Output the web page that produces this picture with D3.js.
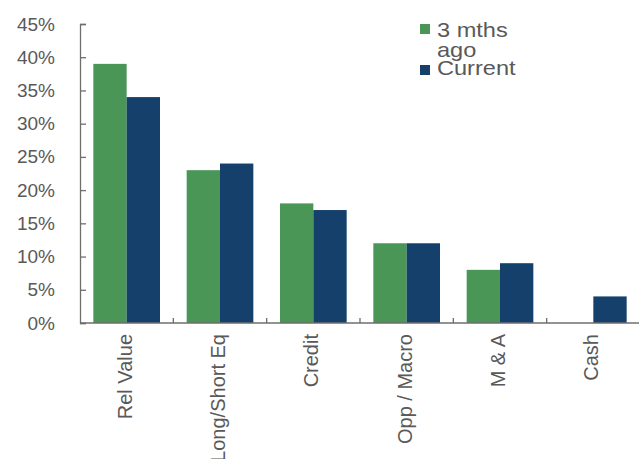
<!DOCTYPE html>
<html>
<head>
<meta charset="utf-8">
<script src="https://cdn.jsdelivr.net/npm/d3@7"></script>
<style>
  body { margin: 0; background: #fff; }
  text { font-family: "Liberation Sans", Arial, sans-serif; fill: #595959; }
</style>
</head>
<body>
<div id="chart"></div>
<script>
const CATEGORIES = ["Rel Value", "Long/Short Eq", "Credit", "Opp / Macro", "M & A", "Cash"]
const SERIES = ["3 mths ago", "Current"]
const AGO = [39, 23, 18, 12, 8, null]
const CURRENT = [34, 24, 17, 12, 9, 4]
const Y_TICKS = [0, 5, 10, 15, 20, 25, 30, 35, 40, 45]
const COLORS = ["#4a9657", "#15406b"]

const WIDTH = 639
const HEIGHT = 459
const LEFT = 80
const TOP = 24
const BOTTOM = 323

const svg = d3.select("#chart").append("svg")
  .attr("width", WIDTH)
  .attr("height", HEIGHT)

const y = d3.scaleLinear().domain([0, 45]).range([BOTTOM, TOP])

// categories run a bit past the right edge, like the original
const x0 = d3.scaleBand().domain(CATEGORIES).range([LEFT, 640]).padding(0)
const x1 = d3.scaleBand().domain(SERIES).range([0, x0.bandwidth()])
  .paddingInner(0).paddingOuter(0.4)

const rows = CATEGORIES.map((c, i) => ({ cat: c, vals: [AGO[i], CURRENT[i]] }))

svg.selectAll("g.group")
  .data(rows)
  .enter().append("g")
  .attr("class", "group")
  .attr("transform", d => `translate(${x0(d.cat)},0)`)
  .selectAll("rect")
  .data(d => d.vals.map((v, j) => ({ s: SERIES[j], v: v, j: j })).filter(d => d.v != null))
  .enter().append("rect")
  .attr("x", d => x1(d.s))
  .attr("y", d => y(d.v))
  .attr("width", x1.bandwidth())
  .attr("height", d => BOTTOM - y(d.v))
  .attr("fill", d => COLORS[d.j])

// y axis with inward ticks
const yAxis = svg.append("g")
  .attr("transform", `translate(${LEFT},0)`)
  .call(d3.axisLeft(y).tickValues(Y_TICKS).tickFormat(d => d + "%")
    .tickSizeInner(-6).tickSizeOuter(-6).tickPadding(25))
yAxis.selectAll("line, path").attr("stroke", "#6e6e6e").attr("stroke-width", 1.3)
yAxis.selectAll("text").style("font-size", "19px").attr("fill", "#595959")

// x axis line and category boundary ticks
svg.append("line")
  .attr("x1", LEFT).attr("x2", WIDTH)
  .attr("y1", BOTTOM).attr("y2", BOTTOM)
  .attr("stroke", "#6e6e6e").attr("stroke-width", 1.3)

svg.selectAll("line.xtick")
  .data(CATEGORIES.slice(0, -1))
  .enter().append("line")
  .attr("class", "xtick")
  .attr("x1", d => x0(d) + x0.bandwidth())
  .attr("x2", d => x0(d) + x0.bandwidth())
  .attr("y1", BOTTOM).attr("y2", BOTTOM - 5)
  .attr("stroke", "#6e6e6e").attr("stroke-width", 1.3)

// rotated category labels
svg.selectAll("text.cat")
  .data(CATEGORIES)
  .enter().append("text")
  .attr("class", "cat")
  .attr("transform", d => `translate(${x0(d) + x0.bandwidth() / 2 - 2},${BOTTOM + 11}) rotate(-90)`)
  .attr("text-anchor", "end")
  .attr("dy", "0.35em")
  .style("font-size", "20px")
  .text(d => d)

// legend (text looks a little stretched sideways in the original)
const legend = svg.append("g").attr("transform", "translate(420,24)")
legend.append("rect").attr("x", 0).attr("y", 0).attr("width", 10).attr("height", 10).attr("fill", COLORS[0])
legend.append("rect").attr("x", 0).attr("y", 41).attr("width", 10).attr("height", 10).attr("fill", COLORS[1])
const legendText = [["3 mths", 13], ["ago", 33], ["Current", 51]]
legend.selectAll("text")
  .data(legendText)
  .enter().append("text")
  .attr("transform", d => `translate(17,${d[1]}) scale(1.15,1)`)
  .style("font-size", "20.5px")
  .text(d => d[0])
</script>
</body>
</html>
